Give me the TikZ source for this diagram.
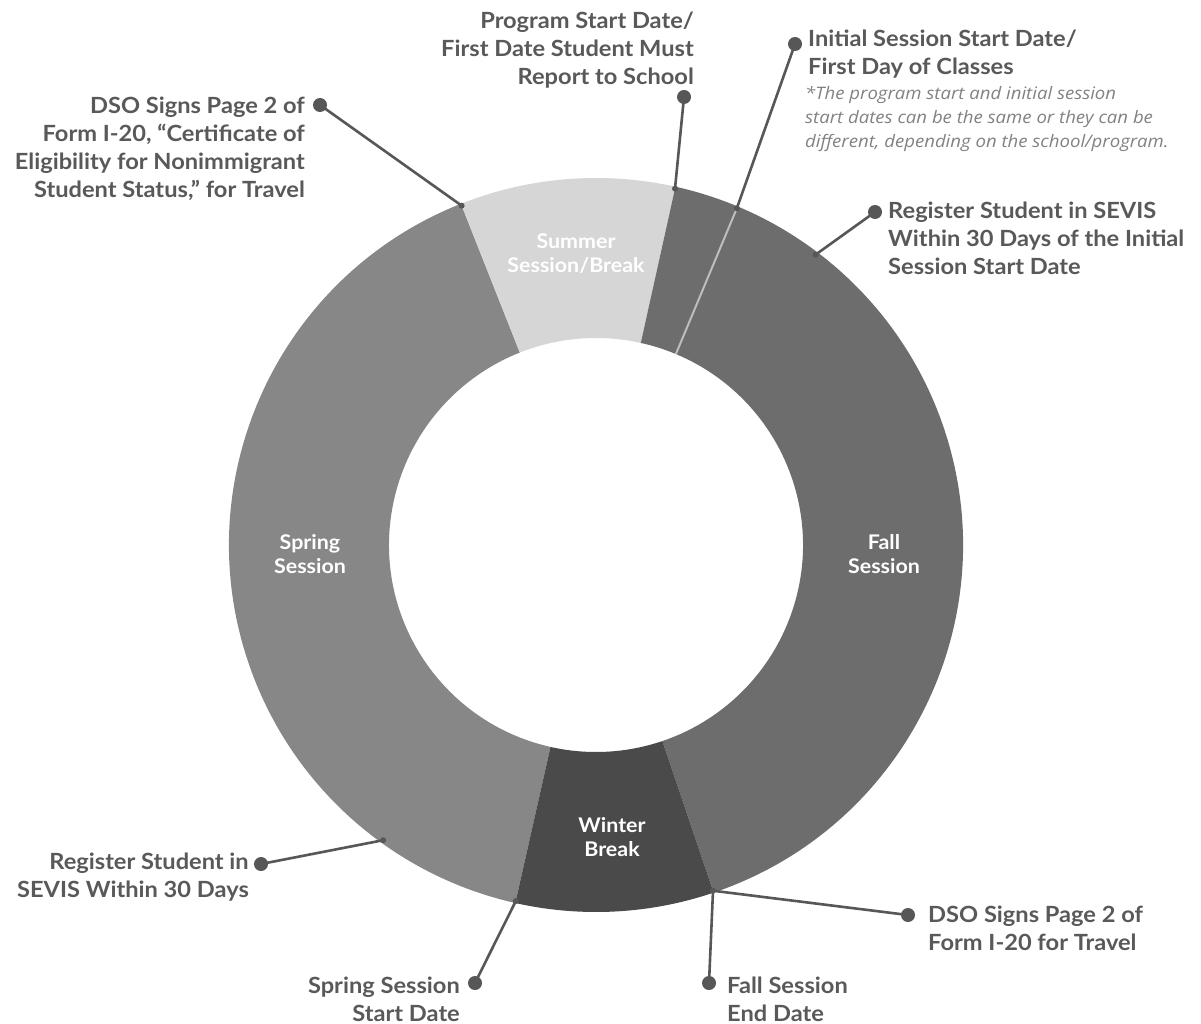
\documentclass[tikz,border=0pt]{standalone}
\usepackage{fontspec}
\setmainfont{Lato}[FakeStretch=1.06]
\newfontfamily\notefont{Open Sans}[FakeStretch=1.08]
\definecolor{springc}{HTML}{878787}
\definecolor{summerc}{HTML}{D6D6D6}
\definecolor{fallc}{HTML}{6D6D6D}
\definecolor{winterc}{HTML}{4A4A4A}
\definecolor{sepc}{HTML}{BDBDBD}
\definecolor{linec}{HTML}{575757}
\definecolor{labc}{HTML}{595959}
\definecolor{notec}{HTML}{828282}
\newcommand\donutseg[3]{%
  \fill[#3] ([shift={(#1:367pt)}]ctr) arc[start angle=#1, end angle=#2, radius=367pt]
    -- ([shift={(#2:207pt)}]ctr) arc[start angle=#2, end angle=#1, radius=207pt] -- cycle;}
\begin{document}
\begin{tikzpicture}[x=1pt,y=1pt,
  bigdot/.style={circle,fill=linec,inner sep=0pt,minimum size=14pt},
  smalldot/.style={circle,fill=linec,inner sep=0pt,minimum size=6pt},
  conn/.style={draw=linec,line width=2.6pt},
  lab/.style={text=labc,font=\fontsize{22.3}{28}\selectfont\bfseries,inner sep=0pt},
  note/.style={text=notec,font=\notefont\fontsize{17.2}{24}\selectfont\itshape,inner sep=0pt,align=left},
  inlab/.style={text=white,font=\fontsize{20.2}{24}\selectfont\bfseries,align=center,inner sep=0pt}]
\useasboundingbox (0,0) rectangle (1201,-1024);
\fill[white] (0,0) rectangle (1201,-1024);
\coordinate (ctr) at (596,-545);
% donut
\donutseg{111.6}{257.3}{springc}
\donutseg{77.5}{111.6}{summerc}
\donutseg{67.3}{77.5}{fallc}
\donutseg{-71.3}{67.3}{fallc}
\donutseg{-102.7}{-71.3}{winterc}
\draw[sepc,line width=2pt] ([shift={(67.3:207pt)}]ctr) -- ([shift={(67.3:366pt)}]ctr);
% inside labels
\node[inlab] (summer) at (576,-254) {Summer\\Session/Break};
\node[inlab] (spring) at (310,-554) {Spring\\Session};
\node[inlab] (fall) at (884,-554) {Fall\\Session};
\node[inlab] (winter) at (612,-837) {Winter\\Break};
% dots on ring
\node[smalldot] (s1) at ([shift={(111.6:365pt)}]ctr) {};
\node[smalldot] (s2) at ([shift={(77.5:365pt)}]ctr) {};
\node[smalldot] (s3) at ([shift={(67.3:365pt)}]ctr) {};
\node[smalldot] (s4) at ([shift={(52.9:364pt)}]ctr) {};
\node[smalldot] (s5) at ([shift={(-125.8:364pt)}]ctr) {};
\node[smalldot] (s6) at ([shift={(-102.7:365pt)}]ctr) {};
\node[smalldot] (s7) at ([shift={(-71.3:365pt)}]ctr) {};
% label dots
\node[bigdot] (d1) at (320,-105) {};
\node[bigdot] (d2) at (684,-97) {};
\node[bigdot] (d3) at (795,-44) {};
\node[bigdot] (d4) at (875,-212) {};
\node[bigdot] (d5) at (261,-864) {};
\node[bigdot] (d6) at (475,-983) {};
\node[bigdot] (d7) at (709,-983) {};
\node[bigdot] (d8) at (908,-915) {};
% connectors
\draw[conn] (d1.center) -- (s1.center);
\draw[conn] (d2.center) -- (s2.center);
\draw[conn] (d3.center) -- (s3.center);
\draw[conn] (d4.center) -- (s4.center);
\draw[conn] (d5.center) -- (s5.center);
\draw[conn] (d6.center) -- (s6.center);
\draw[conn] (d7.center) -- (s7.center);
\draw[conn] (d8.center) -- (s7.center);
% labels
\node[lab,align=right,anchor=north east] (t1) at (305,-97) {DSO Signs Page 2 of\\Form I-20, “Certificate of\\Eligibility for Nonimmigrant\\Student Status,” for Travel};
\node[lab,align=right,anchor=north east] (t2) at (694,-11.5) {Program Start Date/\\First Date Student Must\\Report to School};
\node[lab,align=left,anchor=north west] (t3) at (808,-29.5) {Initial Session Start Date/\\First Day of Classes};
\node[note,anchor=north west] (t3n) at (805,-86) {*The program start and initial session\\start dates can be the same or they can be\\different, depending on the school/program.};
\node[lab,align=left,anchor=north west] (t4) at (888,-202) {Register Student in SEVIS\\Within 30 Days of the Initial\\Session Start Date};
\node[lab,align=right,anchor=north east] (t5) at (249,-853) {Register Student in\\SEVIS Within 30 Days};
\node[lab,align=right,anchor=north east] (t6) at (460,-976.5) {Spring Session\\Start Date};
\node[lab,align=left,anchor=north west] (t7) at (727,-976.5) {Fall Session\\End Date};
\node[lab,align=left,anchor=north west] (t8) at (928,-906) {DSO Signs Page 2 of\\Form I-20 for Travel};
\end{tikzpicture}
\end{document}
